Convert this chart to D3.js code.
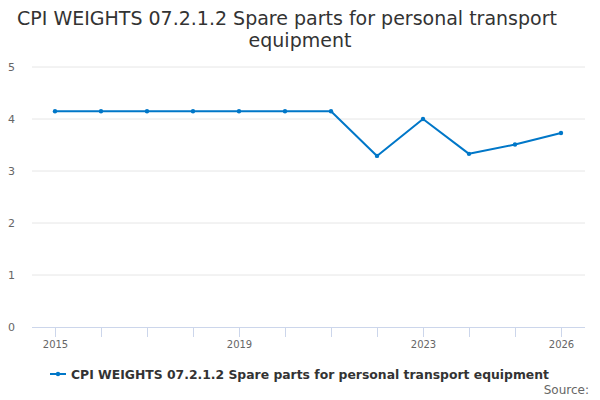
<!DOCTYPE html>
<html>
<head>
<meta charset="utf-8">
<script src="https://cdn.jsdelivr.net/npm/d3@7"></script>
<style>
  body { margin: 0; background: #fff; }
  svg { display: block; font-family: "DejaVu Sans", sans-serif; }
</style>
</head>
<body>
<div id="chart"></div>
<script>
const years = [2015, 2016, 2017, 2018, 2019, 2020, 2021, 2022, 2023, 2024, 2025, 2026];
const weights = [4.15, 4.15, 4.15, 4.15, 4.15, 4.15, 4.15, 3.29, 4.0, 3.33, 3.51, 3.73];
const yTicks = [0, 1, 2, 3, 4, 5];
const xLabels = [2015, 2019, 2023, 2026];
const titleLines = ["CPI WEIGHTS 07.2.1.2 Spare parts for personal transport", "equipment"];
const seriesName = "CPI WEIGHTS 07.2.1.2 Spare parts for personal transport equipment";

const width = 600, height = 400;
const margin = { top: 67, right: 15, bottom: 73, left: 32 };
const color = "#0077c8";

const svg = d3.select("#chart").append("svg").attr("width", width).attr("height", height);

svg.selectAll("text.title")
  .data(titleLines)
  .join("text")
  .attr("class", "title")
  .attr("x", (d, i) => (i === 0 ? 287 : 300))
  .attr("y", (d, i) => 25 + i * 22)
  .attr("text-anchor", "middle")
  .attr("fill", "#333")
  .style("font-size", "19px")
  .text((d) => d);

const x = d3.scalePoint().domain(years).range([55, 561]);
const y = d3.scaleLinear().domain([0, 5]).range([height - margin.bottom, margin.top]);

// grid
svg.append("g")
  .selectAll("line")
  .data(yTicks.filter((d) => d > 0))
  .join("line")
  .attr("x1", margin.left)
  .attr("x2", width - margin.right)
  .attr("y1", (d) => y(d))
  .attr("y2", (d) => y(d))
  .attr("stroke", "#e6e6e6");

svg.append("g")
  .selectAll("text")
  .data(yTicks)
  .join("text")
  .attr("x", 15)
  .attr("y", (d) => y(d) + 4)
  .attr("text-anchor", "end")
  .attr("fill", "#666")
  .style("font-size", "11px")
  .text((d) => d);

// x axis
const xAxis = svg.append("g")
  .attr("transform", `translate(0,${y(0)})`)
  .call(d3.axisBottom(x).tickSize(10).tickPadding(4).tickFormat((d) => (xLabels.includes(d) ? d : "")));
xAxis.select(".domain").attr("stroke", "#ccd6eb").attr("d", `M${margin.left},0.5H${width - margin.right}`);
xAxis.selectAll(".tick line").attr("stroke", "#ccd6eb");
xAxis.selectAll(".tick text").attr("fill", "#666").style("font-size", "10px").style("font-family", "DejaVu Sans, sans-serif");

// line
const line = d3.line().x((d, i) => x(years[i])).y((d) => y(d));
svg.append("path")
  .datum(weights)
  .attr("fill", "none")
  .attr("stroke", color)
  .attr("stroke-width", 2)
  .attr("stroke-linejoin", "round")
  .attr("d", line);

svg.append("g")
  .selectAll("circle")
  .data(weights)
  .join("circle")
  .attr("cx", (d, i) => x(years[i]))
  .attr("cy", (d) => y(d))
  .attr("r", 2.2)
  .attr("fill", color);

// legend
const legend = svg.append("g").attr("transform", "translate(50,374)");
legend.append("line").attr("x1", 0).attr("x2", 16).attr("y1", 0).attr("y2", 0).attr("stroke", color).attr("stroke-width", 2);
legend.append("circle").attr("cx", 8).attr("cy", 0).attr("r", 2.2).attr("fill", color);
legend.append("text")
  .attr("x", 21)
  .attr("y", 4.5)
  .attr("fill", "#333")
  .attr("textLength", 478)
  .attr("lengthAdjust", "spacingAndGlyphs")
  .style("font-size", "13px")
  .style("font-weight", "bold")
  .text(seriesName);

svg.append("text")
  .attr("x", 589)
  .attr("y", 394)
  .attr("text-anchor", "end")
  .attr("fill", "#666")
  .style("font-size", "12px")
  .text("Source:");
</script>
</body>
</html>
